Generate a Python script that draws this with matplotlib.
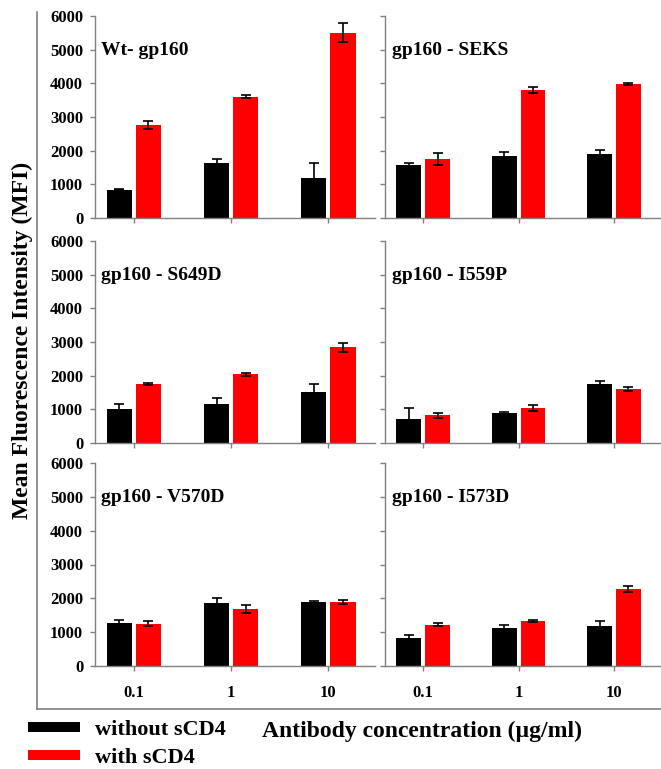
import numpy as np
import matplotlib
matplotlib.use("Agg")
import matplotlib.pyplot as plt
from matplotlib.lines import Line2D
from matplotlib.patches import Patch

plt.rcParams['font.family'] = ['Liberation Serif', 'DejaVu Serif']
plt.rcParams['font.weight'] = 'bold'

concentrations = ['0.1', '1', '10']
constructs = ['Wt- gp160', 'gp160 - SEKS', 'gp160 - S649D',
              'gp160 - I559P', 'gp160 - V570D', 'gp160 - I573D']

# MFI without / with sCD4, per construct, at 0.1, 1, 10 ug/ml
mfi_no_scd4 = [
    [840, 1620, 1200],
    [1560, 1830, 1890],
    [1020, 1150, 1520],
    [700, 900, 1760],
    [1280, 1850, 1890],
    [830, 1120, 1180],
]
err_no_scd4 = [
    [20, 120, 430],
    [70, 140, 130],
    [150, 180, 240],
    [330, 30, 70],
    [90, 150, 30],
    [80, 100, 150],
]
mfi_scd4 = [
    [2760, 3600, 5500],
    [1750, 3790, 3980],
    [1750, 2040, 2840],
    [820, 1050, 1600],
    [1250, 1680, 1890],
    [1220, 1320, 2280],
]
err_scd4 = [
    [120, 40, 280],
    [170, 90, 20],
    [40, 40, 140],
    [70, 90, 70],
    [70, 120, 60],
    [50, 30, 80],
]

W, H = 661, 769
fig = plt.figure(figsize=(W / 100, H / 100), dpi=100)

# axes boxes in pixels: (left, right) per column, (top, bottom) per row
cols = [(95, 375), (385, 660)]
rows = [(16, 218), (241, 443), (463, 666)]

def px_box(c, r):
    x0, x1 = c
    y0, y1 = r
    return [x0 / W, 1 - y1 / H, (x1 - x0) / W, (y1 - y0) / H]

grey = '#808080'
x = np.arange(len(concentrations))
bw = 0.26
off = 0.15

for i, name in enumerate(constructs):
    r, c = divmod(i, 2)
    ax = fig.add_axes(px_box(cols[c], rows[r]))
    ax.bar(x - off, mfi_no_scd4[i], bw, color='black',
           yerr=err_no_scd4[i], capsize=3.5,
           error_kw=dict(ecolor='black', elinewidth=1.2, capthick=1.2))
    ax.bar(x + off, mfi_scd4[i], bw, color='#ff0000',
           yerr=err_scd4[i], capsize=3.5,
           error_kw=dict(ecolor='black', elinewidth=1.2, capthick=1.2))
    ax.set_ylim(0, 6000)
    ax.set_xlim(-0.4, 2.48)
    ax.set_yticks(range(0, 6001, 1000))
    ax.set_xticks(x)
    for s in ['top', 'right']:
        ax.spines[s].set_visible(False)
    for s in ['left', 'bottom']:
        ax.spines[s].set_color(grey)
        ax.spines[s].set_linewidth(1.0)
    ax.tick_params(axis='both', direction='out', color=grey, length=3.5,
                   width=1.0, labelsize=12)
    ax.tick_params(axis='y', pad=5)
    ax.tick_params(axis='x', pad=10)
    if c == 1:
        ax.set_yticklabels([])
    if r < 2:
        ax.set_xticklabels([])
    else:
        ax.set_xticklabels(concentrations)
    ax.text(0.02 if c == 0 else 0.025, 0.83, name, transform=ax.transAxes,
            fontsize=14, fontweight='bold', ha='left', va='center')

# outer frame lines
fig.add_artist(Line2D([37 / W, 37 / W], [1 - 12 / H, 1 - 709 / H],
                      color=grey, lw=1.2))
fig.add_artist(Line2D([37 / W, 1.0], [1 - 709 / H, 1 - 709 / H],
                      color=grey, lw=1.2))

fig.text(22 / W, 1 - 340 / H, 'Mean Fluorescence Intensity (MFI)',
         rotation=90, fontsize=17, fontweight='bold', ha='center', va='center')
fig.text(422 / W, 1 - 731 / H, 'Antibody concentration (\u00b5g/ml)',
         fontsize=17, fontweight='bold', ha='center', va='center')

handles = [Patch(facecolor='black', label='without sCD4'),
           Patch(facecolor='#ff0000', label='with sCD4')]
fig.legend(handles=handles, loc='upper left',
           bbox_to_anchor=(28 / W, 1 - 720 / H), frameon=False,
           handlelength=2.35, handleheight=0.3,
           handletextpad=0.65, labelspacing=0.35, borderpad=0,
           borderaxespad=0, prop=dict(weight='bold', size=16))

fig.savefig('out.png', dpi=100)
